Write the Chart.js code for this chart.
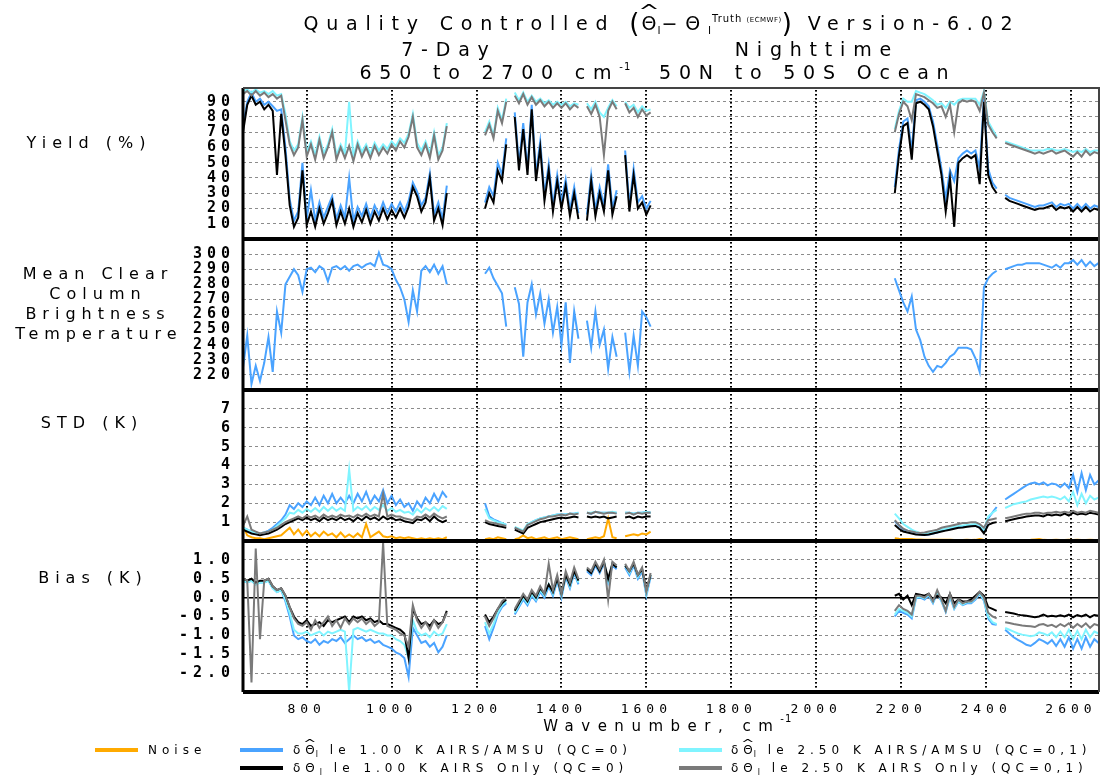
<!DOCTYPE html>
<html lang="en">
<head>
<meta charset="utf-8">
<title>Quality Controlled Version-6.02</title>
<script src="https://cdn.jsdelivr.net/npm/chart.js@4.4.1/dist/chart.umd.min.js"></script>
<style>
  body { margin: 0; background: #fff; }
  #lienzo { position: relative; width: 1103px; height: 778px; font-family: "DejaVu Sans", sans-serif; color: #000; overflow: hidden; }
  #grafico { position: absolute; left: 0; top: 0; }
  .t { position: absolute; white-space: nowrap; line-height: 1; transform: translate(-50%, -50%); }
  .titulo { font-size: 19px; letter-spacing: 7.8px; padding-left: 7.8px; }
  .panel { font-size: 16px; letter-spacing: 6px; padding-left: 6px; }
  .eje { font-size: 15px; letter-spacing: 7.5px; padding-left: 7.5px; }
  .par { font-size: 26px; line-height: 0; letter-spacing: 2px; vertical-align: -2px; }
  .sub { font-size: 11px; line-height: 0; letter-spacing: 1px; vertical-align: -4px; }
  .sup { font-size: 10px; line-height: 0; letter-spacing: 1px; vertical-align: 8px; }
  .chico { font-size: 7px; letter-spacing: 0.5px; }
  .sup1 { font-size: 10px; line-height: 0; letter-spacing: 1px; vertical-align: 9px; }
  .gorro { position: relative; display: inline-block; letter-spacing: 0; margin-right: 1px; }
  .gorro::before { content: "^"; position: absolute; left: 0; right: 0; top: -0.62em; text-align: center; font-size: 0.9em; transform: scaleX(1.5); }
  .ley { position: absolute; font-size: 12px; letter-spacing: 5px; white-space: nowrap; line-height: 1; transform: translateY(-50%); }
  .ley .sub { font-size: 8px; vertical-align: -3px; letter-spacing: 3px; }
  .ley .gorro::before { top: -0.5em; }
  .muestra { position: absolute; width: 43px; height: 4px; }
</style>
</head>
<body>
<div id="lienzo">
  <canvas id="grafico" width="1103" height="778"></canvas>

  <div class="t titulo" style="left:658px;top:23px">Quality Controlled <span class="par">(</span><span class="gorro">Θ</span><span class="sub">l</span>−Θ<span class="sub">l</span><span class="sup">Truth <span class="chico">(ECMWF)</span></span><span class="par">)</span> Version-6.02</div>
  <div class="t titulo" style="left:445px;top:49px">7-Day</div>
  <div class="t titulo" style="left:813px;top:49px">Nighttime</div>
  <div class="t titulo" style="left:654px;top:72px">650 to 2700 cm<span class="sup1">-1</span>&nbsp; 50N to 50S Ocean</div>

  <div class="t panel" style="left:86px;top:143px">Yield (%)</div>
  <div class="t panel" style="left:95px;top:274px">Mean Clear</div>
  <div class="t panel" style="left:95px;top:294px">Column</div>
  <div class="t panel" style="left:95px;top:314px">Brightness</div>
  <div class="t panel" style="left:96px;top:334px">Temperature</div>
  <div class="t panel" style="left:89px;top:423px">STD (K)</div>
  <div class="t panel" style="left:90px;top:578px">Bias (K)</div>

  <div class="t eje" style="left:664px;top:726px">Wavenumber, cm<span class="sup1">-1</span></div>

  <div class="muestra" style="left:95px;top:748px;background:#ffaa00"></div>
  <div class="ley" style="left:148px;top:750px">Noise</div>
  <div class="muestra" style="left:240px;top:748px;background:#4aa3ff"></div>
  <div class="ley" style="left:293px;top:750px">δ<span class="gorro">Θ</span><span class="sub">l</span> le 1.00 K AIRS/AMSU (QC=0)</div>
  <div class="muestra" style="left:679px;top:748px;background:#80f4ff"></div>
  <div class="ley" style="left:731px;top:750px">δ<span class="gorro">Θ</span><span class="sub">l</span> le 2.50 K AIRS/AMSU (QC=0,1)</div>
  <div class="muestra" style="left:240px;top:766px;background:#000000"></div>
  <div class="ley" style="left:293px;top:768px">δΘ<span class="sub">l</span> le 1.00 K AIRS Only (QC=0)</div>
  <div class="muestra" style="left:679px;top:766px;background:#7a7a7a"></div>
  <div class="ley" style="left:731px;top:768px">δΘ<span class="sub">l</span> le 2.50 K AIRS Only (QC=0,1)</div>
</div>

<script>
// Numeros de onda (cm-1) de cada tramo
const wnA = [650, 660, 670, 680, 690, 700, 710, 720, 730, 740, 750, 760, 770, 780, 790, 800, 810, 820, 830, 840,
  850, 860, 870, 880, 890, 900, 910, 920, 930, 940, 950, 960, 970, 980, 990, 1000, 1010, 1020, 1030, 1040,
  1050, 1060, 1070, 1080, 1090, 1100, 1110, 1120, 1130];
const wnB = [1220, 1230, 1240, 1250, 1260, 1270, 1280, 1290, 1300, 1310, 1320, 1330, 1340, 1350, 1360, 1370,
  1380, 1390, 1400, 1410, 1420, 1430, 1440, 1450, 1460, 1470, 1480, 1490, 1500, 1510, 1520, 1530, 1540, 1550,
  1560, 1570, 1580, 1590, 1600, 1610];
const wnC = [2185, 2195, 2205, 2215, 2225, 2235, 2245, 2255, 2265, 2275, 2285, 2295, 2305, 2315, 2325, 2335,
  2345, 2355, 2365, 2375, 2385, 2395, 2405, 2415, 2425, 2435, 2445, 2455, 2465, 2475, 2485, 2495, 2505, 2515,
  2525, 2535, 2545, 2555, 2565, 2575, 2585, 2595, 2605, 2615, 2625, 2635, 2645, 2655, 2665];

// Etiquetas de los ejes
const xTicks = [800, 1000, 1200, 1400, 1600, 1800, 2000, 2200, 2400, 2600];
const yieldTicks = [10, 20, 30, 40, 50, 60, 70, 80, 90];
const btTicks = [220, 230, 240, 250, 260, 270, 280, 290, 300];
const stdTicks = [1, 2, 3, 4, 5, 6, 7];
const biasTicks = [-2.0, -1.5, -1.0, -0.5, 0.0, 0.5, 1.0];

// Yield (%)
const yieldGray = [
  [95, 97, 94, 97, 94, 96, 93, 95, 92, 94, 78, 62, 55, 60, 78, 54, 62, 52, 65, 53, 60, 70, 52, 60, 53, 61, 51, 62, 54, 60,
   53, 61, 55, 60, 56, 62, 58, 64, 60, 67, 80, 60, 55, 62, 53, 68, 52, 58, 74],
  [68, 75, 66, 84, 76, 90, null, 94, 89, 95, 88, 93, 88, 91, 87, 90, 86, 89, 86, 89, 85, 88, 86, null,
   87, 82, 88, 80, 55, 84, 90, 85, null, 89, 83, 86, 80, 85, 81, 83],
  [70, 82, 90, 87, 78, 95, 94, 93, 91, 89, 86, 87, 80, 88, 70, 89, 91, 90, 91, 90, 84, 96, 75, 70, 66, null,
   63, 62, 61, 60, 59, 58, 57, 56, 57, 56, 57, 58, 56, 57, 58, 56, 54, 57, 54, 58, 55, 57, 56]
];
const yieldCyan = [
  [97, 98, 96, 98, 96, 97, 95, 97, 94, 95, 82, 64, 58, 62, 80, 57, 64, 55, 67, 56, 62, 72, 55, 62, 56, 90, 54, 64, 57, 62,
   56, 63, 58, 62, 59, 64, 61, 66, 63, 69, 82, 63, 58, 64, 56, 70, 55, 60, 76],
  [70, 77, 68, 86, 78, 92, null, 96, 91, 96, 90, 94, 90, 92, 89, 91, 88, 90, 88, 90, 87, 89, 88, null,
   89, 85, 90, 83, 80, 86, 91, 87, null, 90, 86, 88, 83, 87, 84, 85],
  [72, 84, 92, 90, 90, 97, 96, 95, 93, 91, 88, 89, 86, 90, 88, 91, 92, 92, 92, 92, 88, 97, 77, 72, 67, null,
   64, 63, 62, 61, 60, 59, 58, 58, 58, 58, 59, 59, 58, 58, 59, 58, 57, 58, 57, 59, 57, 58, 58]
];
const yieldBlack = [
  [70, 88, 94, 88, 90, 85, 88, 84, 42, 82, 55, 22, 8, 14, 45, 9, 18, 8, 20, 10, 17, 25, 9, 18, 10, 20, 8, 17, 11, 19,
   10, 18, 12, 20, 13, 19, 14, 20, 14, 21, 34, 28, 18, 24, 40, 12, 20, 9, 30],
  [20, 30, 24, 45, 38, 62, null, 80, 45, 72, 42, 85, 38, 60, 25, 45, 18, 38, 20, 35, 15, 30, 13, null,
   12, 38, 15, 30, 18, 45, 16, 28, null, 55, 18, 42, 20, 24, 16, 22],
  [30, 55, 74, 76, 52, 89, 90, 88, 85, 74, 58, 42, 18, 40, 8, 50, 53, 55, 53, 55, 36, 90, 42, 34, 30, null,
   27, 25, 24, 23, 22, 21, 20, 19, 20, 20, 21, 22, 19, 21, 20, 21, 18, 21, 18, 21, 18, 20, 19]
];
const yieldBlue = [
  [74, 90, 96, 90, 92, 88, 90, 87, 84, 85, 60, 26, 12, 18, 50, 13, 32, 12, 24, 14, 21, 28, 13, 22, 14, 40, 12, 21, 15, 23,
   14, 22, 16, 24, 17, 23, 18, 24, 18, 25, 37, 31, 22, 27, 43, 16, 24, 13, 35],
  [24, 34, 28, 50, 42, 66, null, 83, 49, 76, 46, 88, 42, 64, 29, 49, 22, 42, 24, 39, 19, 34, 17, null,
   16, 42, 19, 34, 22, 49, 20, 32, null, 58, 22, 46, 24, 28, 20, 25],
  [34, 59, 77, 79, 58, 91, 92, 90, 87, 77, 62, 46, 26, 45, 38, 53, 56, 58, 56, 58, 46, 92, 46, 37, 33, null,
   29, 27, 26, 25, 24, 23, 22, 21, 22, 22, 23, 24, 21, 23, 22, 23, 20, 23, 20, 23, 20, 22, 21]
];

// Mean clear column brightness temperature (K)
const btBlue = [
  [225, 246, 214, 226, 216, 228, 245, 222, 262, 248, 280, 285, 290, 286, 275, 290, 291, 288, 292, 290,
   282, 291, 292, 290, 292, 289, 292, 293, 291, 293, 294, 292, 301, 293, 292, 290, 283, 278, 270, 255,
   276, 262, 289, 292, 288, 293, 287, 292, 280],
  [287, 291, 284, 279, 274, 252, null, 278, 267, 232, 268, 280, 260, 274, 254, 270, 248, 265, 240, 268, 228, 262, 244, null,
   256, 238, 262, 240, 250, 224, 245, 232, null, 248, 222, 246, 226, 262, 258, 252],
  [284, 276, 268, 262, 272, 250, 243, 232, 226, 222, 226, 225, 228, 232, 234, 238, 238, 238, 237, 231, 222, 278, 284, 287, 289, null,
   290, 291, 292, 293, 293, 294, 294, 294, 294, 293, 292, 291, 293, 291, 294, 294, 296, 293, 296, 292, 295, 292, 294]
];

// STD (K)
const stdBlue = [
  [0.7, 0.6, 0.5, 0.45, 0.4, 0.45, 0.55, 0.7, 0.9, 1.1, 1.4, 1.9, 1.7, 2.0, 1.8, 2.1, 1.9, 2.3, 1.9, 2.4,
   2.0, 2.5, 2.0, 2.3, 2.0, 2.4, 2.0, 2.5, 2.1, 2.6, 2.0, 2.4, 2.1, 2.7, 2.0, 2.4, 1.9, 2.2, 1.8, 2.0,
   1.6, 2.1, 1.8, 2.3, 2.0, 2.5, 2.1, 2.6, 2.3],
  [2.0, 1.3, 1.15, 1.05, 0.95, 0.85, null, 0.7, 0.6, 0.5, 0.85, 1.0, 1.1, 1.2, 1.25, 1.3, 1.35, 1.4, 1.4, 1.4, 1.45, 1.45, 1.5, null,
   1.5, 1.45, 1.55, 1.5, 1.5, 1.5, 1.5, 1.5, null, 1.5, 1.5, 1.45, 1.5, 1.5, 1.55, 1.5],
  [1.05, 0.8, 0.6, 0.55, 0.45, 0.4, 0.35, 0.32, 0.35, 0.4, 0.45, 0.55, 0.6, 0.65, 0.7, 0.72, 0.75, 0.78, 0.8, 0.8, 0.75, 0.5, 1.2, 1.5, 1.8, null,
   2.2, 2.35, 2.5, 2.65, 2.8, 2.95, 3.05, 3.1, 3.0, 3.1, 2.95, 3.05, 3.0, 2.85, 3.05, 2.8, 3.5, 2.6, 3.6, 2.7, 3.5, 3.0, 3.2]
];
const stdCyan = [
  [0.7, 0.6, 0.5, 0.45, 0.4, 0.45, 0.5, 0.6, 0.8, 1.0, 1.2, 1.5, 1.45, 1.65, 1.5, 1.7, 1.55, 1.75, 1.55, 1.8,
   1.6, 1.8, 1.6, 1.75, 1.6, 3.8, 1.6, 1.8, 1.65, 1.85, 1.6, 1.8, 1.65, 1.9, 1.6, 1.75, 1.55, 1.65, 1.5, 1.55,
   1.4, 1.7, 1.5, 1.75, 1.6, 1.8, 1.6, 1.85, 1.7],
  [1.7, 1.2, 1.1, 1.0, 0.95, 0.85, null, 0.75, 0.65, 0.55, 0.9, 1.0, 1.1, 1.2, 1.25, 1.3, 1.35, 1.4, 1.4, 1.4, 1.45, 1.45, 1.5, null,
   1.5, 1.5, 1.55, 1.5, 1.5, 1.5, 1.55, 1.5, null, 1.5, 1.5, 1.45, 1.5, 1.5, 1.55, 1.5],
  [1.45, 1.2, 0.9, 0.75, 0.6, 0.5, 0.42, 0.4, 0.42, 0.45, 0.5, 0.6, 0.65, 0.7, 0.75, 0.8, 0.82, 0.85, 0.88, 0.9, 0.85, 0.6, 1.3, 1.5, 1.65, null,
   1.75, 1.85, 1.95, 2.0, 2.05, 2.1, 2.2, 2.25, 2.3, 2.35, 2.3, 2.35, 2.3, 2.2, 2.35, 2.1, 2.6, 1.9, 2.5, 2.0, 2.4, 2.2, 2.3]
];
const stdBlack = [
  [0.6, 0.5, 0.4, 0.35, 0.3, 0.35, 0.4, 0.5, 0.6, 0.75, 0.9, 1.0, 1.1, 1.2, 1.1, 1.25, 1.1, 1.2, 1.05, 1.25,
   1.1, 1.2, 1.1, 1.25, 1.1, 1.2, 1.05, 1.25, 1.1, 1.3, 1.15, 1.25, 1.1, 1.3, 1.15, 1.25, 1.1, 1.15, 1.05, 1.0,
   0.95, 1.15, 1.1, 1.25, 1.05, 1.3, 1.1, 1.0, 1.1],
  [1.0, 0.9, 0.85, 0.8, 0.75, 0.7, null, 0.6, 0.5, 0.4, 0.7, 0.8, 0.9, 1.0, 1.05, 1.1, 1.15, 1.2, 1.25, 1.2, 1.25, 1.3, 1.25, null,
   1.3, 1.25, 1.3, 1.25, 1.3, 1.2, 1.25, 1.3, null, 1.25, 1.3, 1.2, 1.3, 1.25, 1.3, 1.3],
  [0.85, 0.65, 0.5, 0.45, 0.4, 0.35, 0.33, 0.32, 0.35, 0.4, 0.45, 0.5, 0.55, 0.6, 0.65, 0.7, 0.72, 0.75, 0.78, 0.8, 0.7, 0.4, 0.85, 0.95, 1.0, null,
   1.05, 1.1, 1.15, 1.2, 1.25, 1.3, 1.32, 1.35, 1.35, 1.3, 1.4, 1.35, 1.4, 1.35, 1.45, 1.35, 1.5, 1.4, 1.45, 1.4, 1.5, 1.45, 1.4]
];
const stdGray = [
  [0.8, 1.3, 0.6, 0.5, 0.4, 0.45, 0.5, 0.6, 0.7, 0.85, 1.0, 1.1, 1.2, 1.3, 1.2, 1.35, 1.25, 1.35, 1.2, 1.4,
   1.25, 1.35, 1.25, 1.4, 1.3, 1.35, 1.25, 1.4, 1.3, 1.45, 1.3, 1.4, 1.3, 2.5, 1.3, 1.4, 1.3, 1.3, 1.2, 1.15,
   1.1, 1.3, 1.25, 1.4, 1.25, 1.45, 1.3, 1.2, 1.3],
  [1.1, 1.0, 0.95, 0.9, 0.85, 0.8, null, 0.7, 0.6, 0.5, 0.85, 0.95, 1.05, 1.15, 1.2, 1.3, 1.3, 1.35, 1.4, 1.35, 1.45, 1.4, 1.45, null,
   1.5, 1.45, 1.55, 1.5, 1.45, 1.5, 1.5, 1.45, null, 1.45, 1.5, 1.4, 1.5, 1.45, 1.5, 1.5],
  [1.1, 0.85, 0.65, 0.55, 0.5, 0.45, 0.42, 0.45, 0.5, 0.55, 0.6, 0.7, 0.75, 0.8, 0.85, 0.9, 0.95, 0.95, 1.0, 1.0, 0.9, 0.7, 1.1, 1.15, 1.2, null,
   1.2, 1.25, 1.3, 1.35, 1.4, 1.45, 1.45, 1.5, 1.5, 1.45, 1.5, 1.5, 1.55, 1.5, 1.55, 1.5, 1.6, 1.5, 1.55, 1.5, 1.6, 1.55, 1.5]
];
const stdNoise = [
  [0.8, 0.3, 0.2, 0.15, 0.15, 0.1, 0.15, 0.2, 0.25, 0.3, 0.5, 0.7, 0.35, 0.6, 0.3, 0.55, 0.25, 0.45, 0.25, 0.5,
   0.3, 0.4, 0.2, 0.45, 0.2, 0.35, 0.2, 0.4, 0.2, 0.9, 0.2, 0.35, 0.5, 0.25, 0.2, 0.25, 0.15, 0.2, 0.15, 0.2,
   0.15, 0.1, 0.15, 0.1, 0.15, 0.1, 0.15, 0.1, 0.2],
  [0.1, 0.15, 0.1, 0.2, 0.15, 0.1, null, 0.1, 0.15, 0.3, 0.15, 0.2, 0.1, 0.15, 0.2, 0.1, 0.15, 0.2, 0.1, 0.15, 0.2, 0.15, 0.1, null,
   0.1, 0.15, 0.2, 0.15, 0.25, 1.2, 0.2, 0.15, null, 0.25, 0.3, 0.35, 0.3, 0.4, 0.35, 0.5],
  [0.15, 0.12, 0.1, 0.1, 0.1, 0.08, 0.08, 0.07, 0.07, 0.07, 0.06, 0.06, 0.06, 0.06, 0.05, 0.05, 0.05, 0.06, 0.05, 0.06, 0.1, 0.05, 0.04, 0.04, 0.04, null,
   0.04, 0.04, 0.04, 0.05, 0.05, 0.05, 0.06, 0.08, 0.1, 0.06, 0.05, 0.05, 0.06, 0.05, 0.05, 0.06, 0.05, 0.06, 0.05, 0.05, 0.06, 0.05, 0.05]
];

// Bias (K)
const biasGray = [
  [0.5, 0.45, -2.25, 1.3, -1.1, 0.45, 0.5, 0.3, 0.2, 0.25, 0.05, -0.25, -0.55, -0.7, -0.75, -0.65, -0.85, -0.6, -0.8, -0.65,
   -0.5, -0.75, -0.6, -0.8, -0.55, -0.7, -0.55, -0.65, -0.55, -0.7, -0.6, -0.75, -0.65, 1.45, -0.75, -0.8, -0.85, -0.95, -1.0, -1.3,
   -0.2, -0.6, -0.8, -0.65, -0.85, -0.6, -0.8, -0.65, -0.4],
  [-0.5, -0.75, -0.55, -0.3, -0.1, 0.0, null, -0.3, -0.1, 0.1, -0.05, 0.2, 0.05, 0.3, 0.1, 0.9, 0.2, 0.6, 0.1, 0.7, 0.4, 0.8, 0.5, null,
   0.8, 0.7, 0.95, 0.75, 1.0, -0.05, 0.95, 0.85, null, 0.9, 0.7, 0.95, 0.6, 0.8, 0.15, 0.65],
  [-0.35, -0.2, -0.3, -0.35, -0.45, 0.05, 0.05, 0.0, 0.1, -0.1, 0.2, -0.05, -0.35, 0.1, -0.25, -0.05, -0.15, -0.1, -0.1, 0.0, 0.15, 0.0, -0.4, -0.5, -0.55, null,
   -0.65, -0.67, -0.7, -0.72, -0.74, -0.75, -0.76, -0.78, -0.72, -0.7, -0.75, -0.72, -0.78, -0.7, -0.76, -0.68, -0.8, -0.7, -0.78, -0.68, -0.8, -0.7, -0.74]
];
const biasBlack = [
  [0.5, 0.45, 0.5, 0.4, 0.45, 0.45, 0.5, 0.3, 0.2, 0.25, 0.05, -0.25, -0.5, -0.65, -0.7, -0.6, -0.75, -0.7, -0.65, -0.75,
   -0.6, -0.65, -0.6, -0.55, -0.5, -0.65, -0.5, -0.55, -0.5, -0.6, -0.55, -0.65, -0.6, -0.7, -0.7, -0.75, -0.8, -0.85, -0.95, -1.6,
   -0.3, -0.55, -0.7, -0.65, -0.75, -0.6, -0.7, -0.65, -0.35],
  [-0.45, -0.65, -0.5, -0.3, -0.15, -0.05, null, -0.35, -0.15, 0.05, -0.1, 0.15, 0.0, 0.25, 0.1, 0.35, 0.15, 0.5, 0.1, 0.6, 0.35, 0.7, 0.45, null,
   0.75, 0.65, 0.9, 0.7, 0.95, 0.5, 0.9, 0.8, null, 0.85, 0.7, 0.9, 0.6, 0.75, 0.2, 0.6],
  [0.05, 0.1, -0.05, 0.05, -0.2, 0.1, 0.08, 0.05, 0.1, -0.05, 0.05, 0.0, -0.15, 0.1, -0.15, -0.05, -0.1, -0.1, -0.05, 0.05, 0.15, 0.05, -0.25, -0.3, -0.35, null,
   -0.38, -0.4, -0.42, -0.45, -0.47, -0.48, -0.5, -0.52, -0.5, -0.45, -0.5, -0.48, -0.5, -0.47, -0.5, -0.45, -0.52, -0.46, -0.5, -0.45, -0.52, -0.46, -0.48]
];
const biasCyan = [
  [0.45, 0.4, 0.45, 0.35, 0.4, 0.4, 0.45, 0.25, 0.15, 0.2, -0.05, -0.4, -0.85, -0.95, -0.95, -0.9, -1.0, -0.95, -0.9, -1.0,
   -0.9, -0.95, -0.9, -0.85, -0.9, -2.5, -0.85, -0.8, -0.85, -0.9, -0.85, -0.9, -0.95, -0.95, -1.0, -1.0, -1.1, -1.15, -1.25, -1.6,
   -0.6, -0.9, -1.0, -0.95, -1.05, -0.9, -1.0, -0.95, -0.7],
  [-0.65, -0.95, -0.7, -0.4, -0.2, -0.1, null, -0.4, -0.2, 0.0, -0.15, 0.1, -0.05, 0.2, 0.05, 0.35, 0.1, 0.5, 0.05, 0.6, 0.3, 0.7, 0.4, null,
   0.75, 0.65, 0.9, 0.7, 0.95, 0.45, 0.9, 0.8, null, 0.85, 0.65, 0.9, 0.55, 0.75, 0.1, 0.6],
  [-0.45, -0.3, -0.35, -0.4, -0.5, 0.0, 0.03, -0.02, 0.08, -0.12, 0.15, -0.08, -0.35, 0.05, -0.28, -0.08, -0.18, -0.12, -0.12, -0.02, 0.12, -0.05, -0.5, -0.65, -0.7, null,
   -0.8, -0.85, -0.9, -0.95, -0.98, -1.0, -1.02, -1.0, -0.92, -0.95, -1.0, -0.92, -1.05, -0.9, -1.05, -0.85, -1.1, -0.88, -1.1, -0.85, -1.05, -0.9, -0.95]
];
const biasBlue = [
  [0.45, 0.4, 0.45, 0.35, 0.4, 0.4, 0.45, 0.25, 0.15, 0.2, -0.1, -0.5, -1.0, -1.1, -1.05, -1.15, -1.2, -1.1, -1.25, -1.15,
   -1.2, -1.1, -1.15, -1.05, -1.2, -1.1, -1.0, -1.1, -1.05, -1.15, -1.1, -1.2, -1.15, -1.25, -1.3, -1.35, -1.45, -1.5, -1.6, -2.1,
   -0.8, -1.0, -1.2, -1.15, -1.3, -1.2, -1.45, -1.3, -1.0],
  [-0.75, -1.1, -0.8, -0.45, -0.25, -0.15, null, -0.45, -0.25, -0.05, -0.2, 0.05, -0.1, 0.15, 0.0, 0.3, 0.05, 0.45, 0.0, 0.55, 0.25, 0.65, 0.35, null,
   0.7, 0.6, 0.85, 0.65, 0.9, 0.4, 0.85, 0.75, null, 0.8, 0.6, 0.85, 0.5, 0.7, 0.05, 0.55],
  [-0.5, -0.35, -0.4, -0.45, -0.55, -0.02, 0.0, -0.05, 0.05, -0.15, 0.12, -0.1, -0.38, 0.02, -0.3, -0.1, -0.2, -0.15, -0.15, -0.05, 0.1, -0.08, -0.55, -0.7, -0.72, null,
   -0.85, -0.95, -1.05, -1.12, -1.18, -1.25, -1.28, -1.2, -1.1, -1.15, -1.22, -1.12, -1.28, -1.1, -1.3, -1.05, -1.35, -1.1, -1.35, -1.05, -1.3, -1.1, -1.2]
];

// Colores
const azul = "#4aa3ff";
const cian = "#80f4ff";
const negro = "#000000";
const gris = "#7a7a7a";
const naranja = "#ffaa00";

// Unir los tres tramos en puntos {x, y}, con un hueco entre tramos
function serie(nombre, partes) {
  const puntos = [];
  [wnA, wnB, wnC].forEach((xs, k) => {
    if (partes[k].length !== xs.length) {
      throw new Error(nombre + ": tramo " + k + " tiene " + partes[k].length + " valores, se esperaban " + xs.length);
    }
    xs.forEach((x, i) => puntos.push({ x: x, y: partes[k][i] }));
    puntos.push({ x: xs[xs.length - 1] + 5, y: null });
  });
  return puntos;
}

function linea(nombre, partes, color, eje) {
  return {
    label: nombre,
    data: serie(nombre, partes),
    borderColor: color,
    backgroundColor: color,
    yAxisID: eje,
    borderWidth: 2,
    pointRadius: 0,
    spanGaps: false,
    fill: false
  };
}

// Eje y de cada panel (apilados a la izquierda)
function ejeY(min, max, ticks, formato) {
  return {
    type: "linear",
    position: "left",
    stack: "paneles",
    stackWeight: 1,
    min: min,
    max: max,
    afterBuildTicks: (s) => { s.ticks = ticks.map((v) => ({ value: v })); },
    afterFit: (s) => { s.width = 243; },
    grid: { color: "#8c8c8c", lineWidth: 1, drawTicks: false },
    border: { display: false, dash: [3, 3] },
    ticks: {
      padding: 8,
      color: "#000",
      autoSkip: false,
      font: { family: "DejaVu Sans Mono", weight: "bold", size: 15 },
      callback: formato
    }
  };
}

// Rejilla vertical punteada, marco negro y linea del cero
const marco = {
  id: "marco",
  beforeDraw(chart) {
    chart.ctx.letterSpacing = "5px";
  },
  beforeDatasetsDraw(chart) {
    const { ctx, chartArea: a, scales } = chart;
    ctx.save();
    ctx.fillStyle = "#000";
    xTicks.forEach((v) => {
      const px = Math.round(scales.x.getPixelForValue(v));
      for (let y = a.top + 2; y < a.bottom; y += 4) {
        ctx.fillRect(px - 1, y, 2, 1.6);
      }
    });
    const y0 = scales.yBias.getPixelForValue(0);
    ctx.strokeStyle = "#000";
    ctx.lineWidth = 1.5;
    ctx.beginPath();
    ctx.moveTo(a.left, y0);
    ctx.lineTo(a.right, y0);
    ctx.stroke();
    ctx.restore();
  },
  afterDatasetsDraw(chart) {
    const { ctx, chartArea: a, scales } = chart;
    ctx.save();
    ctx.strokeStyle = "#000";
    ctx.lineWidth = 4;
    [scales.yYield, scales.yBT, scales.yStd, scales.yBias].forEach((s) => {
      ctx.beginPath();
      ctx.moveTo(a.left, s.bottom);
      ctx.lineTo(a.right, s.bottom);
      ctx.stroke();
    });
    ctx.lineWidth = 3;
    ctx.beginPath();
    ctx.moveTo(a.left, a.top);
    ctx.lineTo(a.left, a.bottom);
    ctx.stroke();
    ctx.strokeStyle = "#444";
    ctx.lineWidth = 2;
    ctx.beginPath();
    ctx.moveTo(a.left, a.top);
    ctx.lineTo(a.right, a.top);
    ctx.lineTo(a.right, a.bottom);
    ctx.stroke();
    ctx.restore();
  }
};

const grafico = new Chart(document.getElementById("grafico"), {
  type: "line",
  data: {
    datasets: [
      linea("Yield 2.50 K AIRS Only", yieldGray, gris, "yYield"),
      linea("Yield 1.00 K AIRS Only", yieldBlack, negro, "yYield"),
      linea("Yield 2.50 K AIRS/AMSU", yieldCyan, cian, "yYield"),
      linea("Yield 1.00 K AIRS/AMSU", yieldBlue, azul, "yYield"),
      linea("Mean clear column BT", btBlue, azul, "yBT"),
      linea("STD 2.50 K AIRS Only", stdGray, gris, "yStd"),
      linea("STD 1.00 K AIRS Only", stdBlack, negro, "yStd"),
      linea("STD 2.50 K AIRS/AMSU", stdCyan, cian, "yStd"),
      linea("STD 1.00 K AIRS/AMSU", stdBlue, azul, "yStd"),
      linea("Noise", stdNoise, naranja, "yStd"),
      linea("Bias 2.50 K AIRS Only", biasGray, gris, "yBias"),
      linea("Bias 1.00 K AIRS Only", biasBlack, negro, "yBias"),
      linea("Bias 2.50 K AIRS/AMSU", biasCyan, cian, "yBias"),
      linea("Bias 1.00 K AIRS/AMSU", biasBlue, azul, "yBias")
    ]
  },
  options: {
    responsive: false,
    animation: false,
    layout: { padding: { top: 88, right: 4, bottom: 36, left: 0 } },
    plugins: {
      legend: { display: false },
      tooltip: { enabled: false },
      title: { display: false }
    },
    scales: {
      x: {
        type: "linear",
        min: 650,
        max: 2666,
        afterBuildTicks: (s) => { s.ticks = xTicks.map((v) => ({ value: v })); },
        afterFit: (s) => { s.height = 50; },
        grid: { display: false, drawTicks: false },
        border: { display: false },
        ticks: {
          padding: 10,
          color: "#000",
          maxRotation: 0,
          autoSkip: false,
          font: { family: "DejaVu Sans Mono", size: 13 },
          callback: (v) => String(v)
        }
      },
      // el ultimo eje de la pila queda arriba
      yBias: ejeY(-2.5, 1.5, biasTicks, (v) => v.toFixed(1)),
      yStd: ejeY(0, 8, stdTicks, (v) => String(v)),
      yBT: ejeY(210, 310, btTicks, (v) => String(v)),
      yYield: ejeY(0, 99, yieldTicks, (v) => String(v))
    }
  },
  plugins: [marco]
});
</script>
</body>
</html>
